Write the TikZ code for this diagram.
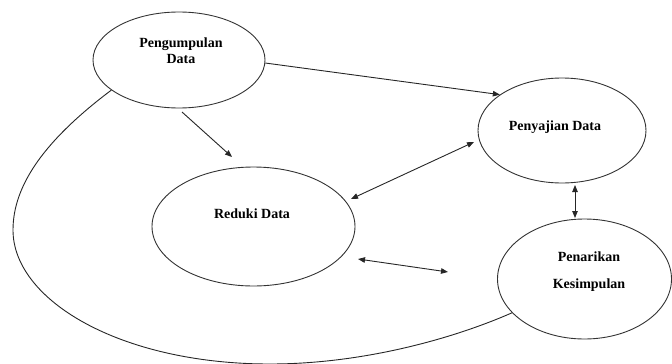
\documentclass[tikz,border=0pt]{standalone}
\usepackage{fontspec}
\setmainfont{Liberation Serif}
\usetikzlibrary{shapes.geometric,arrows.meta}
\begin{document}
\begin{tikzpicture}[x=1pt,y=-1pt,
  bubble/.style={ellipse,draw=black!80,line width=0.9pt,inner sep=0pt,fill=none},
  lbl/.style={font=\fontsize{14}{16}\selectfont\bfseries,anchor=base,inner sep=0pt},
  conn/.style={draw=black!85,line width=0.9pt},
  tip/.style={-{Triangle[length=7pt,width=5.5pt]}},
  dtip/.style={{Triangle[length=7pt,width=5.5pt]}-{Triangle[length=7pt,width=5.5pt]}}]
\useasboundingbox (0,0) rectangle (672,364);
% ellipses
\node[bubble,minimum width=172pt,minimum height=96pt] (pg) at (179,60) {};
\node[bubble,minimum width=168pt,minimum height=105pt] (ps) at (562,130.5) {};
\node[bubble,minimum width=203pt,minimum height=119pt] (rd) at (253.5,226.5) {};
\node[bubble,minimum width=174pt,minimum height=120pt] (pk) at (584.5,279) {};
% labels
\node[lbl] (t1) at (181,47) {Pengumpulan};
\node[lbl] (t2) at (181,63) {Data};
\node[lbl] (t3) at (555,130) {Penyajian Data};
\node[lbl] (t4) at (252,218) {Reduki Data};
\node[lbl] (t5) at (589,261) {Penarikan};
\node[lbl] (t6) at (589,288) {Kesimpulan};
% free ends
\coordinate (a1s) at (182,112);
\coordinate (a1e) at (232,157);
\coordinate (a3s) at (351,199);
\coordinate (a3e) at (474,142);
\coordinate (a4s) at (575,185);
\coordinate (a4e) at (575,218);
\coordinate (a5s) at (358,259);
\coordinate (a5e) at (448,272);
\coordinate (c1) at (13,230);
\coordinate (c2) at (270,364);
% connectors
\draw[conn,tip] (a1s) -- (a1e);
\draw[conn,tip] (pg.358) -- (ps.150);
\draw[conn,dtip] (a3s) -- (a3e);
\draw[conn,dtip] (a4s) -- (a4e);
\draw[conn,dtip] (a5s) -- (a5e);
\draw[conn] (pg.204) .. controls (45,140) and (13,185) .. (c1)
  .. controls (13,300) and (120,364) .. (c2)
  .. controls (360,364) and (450,340) .. (pk.205);
\end{tikzpicture}
\end{document}
